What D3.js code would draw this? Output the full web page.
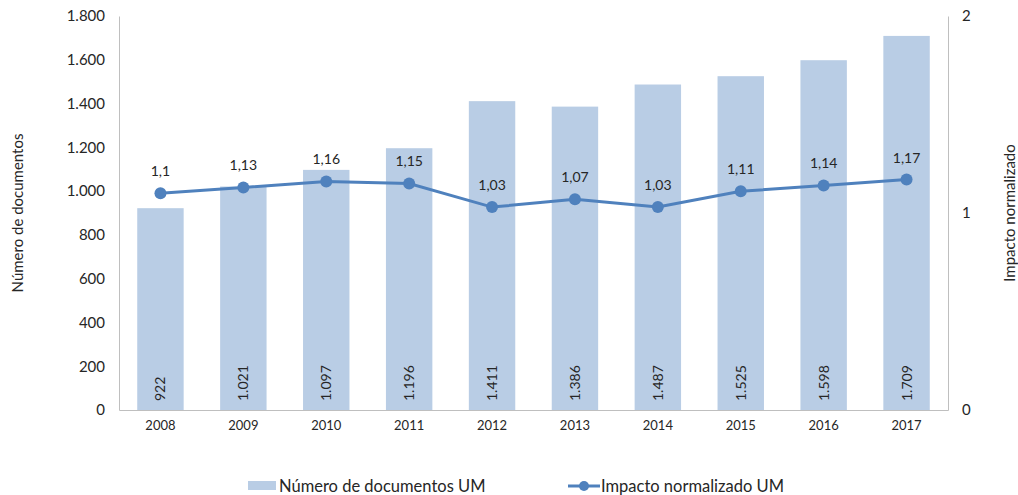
<!DOCTYPE html>
<html lang="es">
<head>
    <meta charset="UTF-8">
    <title>Número de documentos e impacto normalizado UM</title>
    <script src="https://d3js.org/d3.v7.min.js"></script>
    <style>
        body { margin: 0; background: #fff; }
        svg text { font-family: Lato, "Open Sans", sans-serif; fill: #262626; }
    </style>
</head>
<body>
    <div id="chart"></div>
    <script>
        // Data
        const years = ["2008", "2009", "2010", "2011", "2012", "2013", "2014", "2015", "2016", "2017"];
        const documentos = [922, 1021, 1097, 1196, 1411, 1386, 1487, 1525, 1598, 1709];
        const impacto = [1.1, 1.13, 1.16, 1.15, 1.03, 1.07, 1.03, 1.11, 1.14, 1.17];
        const leftTicks = [0, 200, 400, 600, 800, 1000, 1200, 1400, 1600, 1800];
        const rightTicks = [0, 1, 2];

        const width = 1018;
        const height = 495;
        const margin = {top: 16, right: 70, bottom: 85, left: 119};

        const barColor = "#b9cde5";
        const lineColor = "#4f81bd";
        const axisColor = "#bfbfbf";

        const svg = d3.select("#chart")
            .append("svg")
            .attr("width", width)
            .attr("height", height);

        const x = d3.scaleBand()
            .domain(years)
            .range([margin.left, width - margin.right])
            .paddingInner(0.44)
            .paddingOuter(0.22);

        const yLeft = d3.scaleLinear()
            .domain([0, 1800])
            .range([height - margin.bottom, margin.top]);

        const yRight = d3.scaleLinear()
            .domain([0, 2])
            .range([height - margin.bottom, margin.top]);

        const fmtThousands = d3.formatLocale({decimal: ",", thousands: ".", grouping: [3], currency: ["", "€"]}).format(",d");
        const fmtComma = v => String(v).replace(".", ",");

        // Bars
        svg.selectAll("rect.bar")
            .data(documentos)
            .enter()
            .append("rect")
            .attr("class", "bar")
            .attr("x", (d, i) => x(years[i]))
            .attr("y", d => yLeft(d))
            .attr("width", x.bandwidth())
            .attr("height", d => yLeft(0) - yLeft(d))
            .attr("fill", barColor);

        // Bar labels (rotated, at the bottom)
        svg.selectAll("text.barlabel")
            .data(documentos)
            .enter()
            .append("text")
            .attr("class", "barlabel")
            .attr("transform", (d, i) => `translate(${x(years[i]) + x.bandwidth() / 2 + 5}, ${yLeft(0) - 9}) rotate(-90)`)
            .attr("font-size", "14px")
            .text(d => fmtThousands(d));

        // Left axis
        const leftAxis = svg.append("g")
            .attr("transform", `translate(${margin.left}, 0)`)
            .call(d3.axisLeft(yLeft).tickValues(leftTicks).tickSize(0).tickPadding(14).tickFormat(fmtThousands));
        leftAxis.select(".domain").attr("stroke", axisColor);
        leftAxis.selectAll("text").attr("font-size", "15px").attr("font-family", "Lato, sans-serif");

        // Right axis
        const rightAxis = svg.append("g")
            .attr("transform", `translate(${width - margin.right}, 0)`)
            .call(d3.axisRight(yRight).tickValues(rightTicks).tickSize(0).tickPadding(14).tickFormat(d3.format("d")));
        rightAxis.select(".domain").attr("stroke", axisColor);
        rightAxis.selectAll("text").attr("font-size", "15px").attr("font-family", "Lato, sans-serif");

        // Bottom axis
        const bottomAxis = svg.append("g")
            .attr("transform", `translate(0, ${height - margin.bottom})`)
            .call(d3.axisBottom(x).tickSize(0).tickPadding(11));
        bottomAxis.select(".domain").attr("stroke", axisColor);
        bottomAxis.selectAll("text").attr("font-size", "13px").attr("font-family", "Lato, sans-serif");

        // Line
        const line = d3.line()
            .x((d, i) => x(years[i]) + x.bandwidth() / 2)
            .y(d => yRight(d));

        svg.append("path")
            .datum(impacto)
            .attr("d", line)
            .attr("fill", "none")
            .attr("stroke", lineColor)
            .attr("stroke-width", 3);

        svg.selectAll("circle.dot")
            .data(impacto)
            .enter()
            .append("circle")
            .attr("class", "dot")
            .attr("cx", (d, i) => x(years[i]) + x.bandwidth() / 2)
            .attr("cy", d => yRight(d))
            .attr("r", 6)
            .attr("fill", lineColor);

        svg.selectAll("text.linelabel")
            .data(impacto)
            .enter()
            .append("text")
            .attr("class", "linelabel")
            .attr("x", (d, i) => x(years[i]) + x.bandwidth() / 2)
            .attr("y", d => yRight(d) - 17)
            .attr("text-anchor", "middle")
            .attr("font-size", "14px")
            .text(d => fmtComma(d));

        // Axis titles
        svg.append("text")
            .attr("transform", `translate(23, ${(margin.top + height - margin.bottom) / 2}) rotate(-90)`)
            .attr("text-anchor", "middle")
            .attr("font-size", "15px")
            .text("Número de documentos");

        svg.append("text")
            .attr("transform", `translate(1015, ${(margin.top + height - margin.bottom) / 2}) rotate(-90)`)
            .attr("text-anchor", "middle")
            .attr("font-size", "15px")
            .text("Impacto normalizado");

        // Legend
        const legendY = 486;
        svg.append("rect")
            .attr("x", 248)
            .attr("y", legendY - 5)
            .attr("width", 28)
            .attr("height", 9)
            .attr("fill", barColor);
        svg.append("text")
            .attr("x", 279)
            .attr("y", legendY + 6)
            .attr("font-size", "16.5px")
            .text("Número de documentos UM");

        svg.append("line")
            .attr("x1", 568)
            .attr("x2", 600)
            .attr("y1", legendY)
            .attr("y2", legendY)
            .attr("stroke", lineColor)
            .attr("stroke-width", 3);
        svg.append("circle")
            .attr("cx", 584)
            .attr("cy", legendY)
            .attr("r", 5)
            .attr("fill", lineColor);
        svg.append("text")
            .attr("x", 601)
            .attr("y", legendY + 6)
            .attr("font-size", "16.5px")
            .text("Impacto normalizado UM");
    </script>
</body>
</html>
